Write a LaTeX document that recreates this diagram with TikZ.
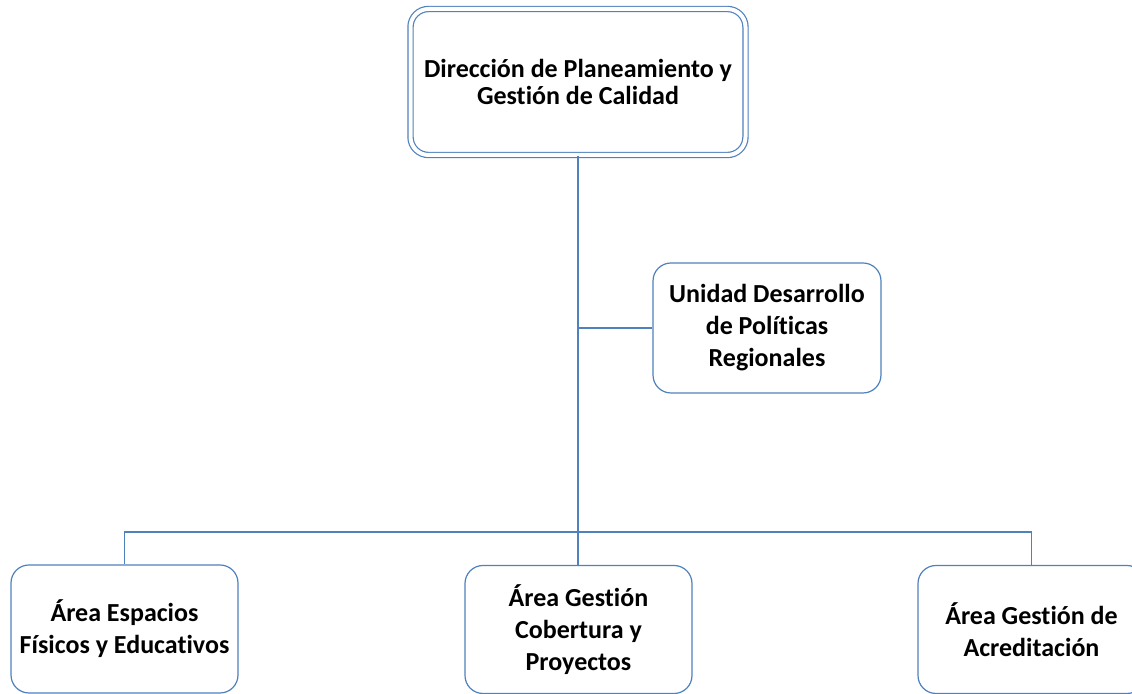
\documentclass[tikz,border=0pt]{standalone}
\usepackage{fontspec}
\setmainfont{Carlito}[Ligatures=NoCommon]
\usepackage{tikz}
\usetikzlibrary{positioning,calc}

\definecolor{linea}{HTML}{4F81BD}

\begin{document}
\begin{tikzpicture}[
			x = 0.5pt, y = -0.5pt,
			every node/.style = {font=\bfseries\fontsize{13}{16}\selectfont, align=center},
			caja/.style = {draw=linea, line width=0.6pt, rounded corners=9pt, fill=white,
				minimum width=113.5pt, minimum height=64pt, inner sep=0pt},
			conector/.style = {draw=linea, line width=0.6pt},
		]

		\clip (0,0) rectangle (1132,694);
		\useasboundingbox (0,0) rectangle (1132,694);

		\node[caja, double=white, double distance=2pt, minimum width=167.5pt, minimum height=73pt,
			font=\bfseries\fontsize{13}{13.5}\selectfont] (direccion) at (578,82)
			{\raisebox{-1pt}{Dirección de Planeamiento y}\\\raisebox{-1pt}{Gestión de Calidad}};

		\node[caja, minimum width=114pt, minimum height=65pt] (unidad) at (767,328)
			{Unidad Desarrollo\\de Políticas\\Regionales};

		\node[caja] (espacios) at (124.5,629) {Área Espacios\\Físicos y Educativos};
		\node[caja] (cobertura) at (578.5,629.5) {Área Gestión\\Cobertura y\\Proyectos};
		\node[caja] (acreditacion) at (1031.5,629.5) {Área Gestión de\\Acreditación};

		\coordinate (reparto) at (578.5,532);

		\draw[conector, line width=1pt] (direccion.south) -- (direccion.south |- cobertura.north);
		\draw[conector] (unidad.west) -- (unidad.west -| direccion.south);
		\draw[conector] (espacios.north) |- (reparto) -| (acreditacion.north);

		\end{tikzpicture}
\end{document}
